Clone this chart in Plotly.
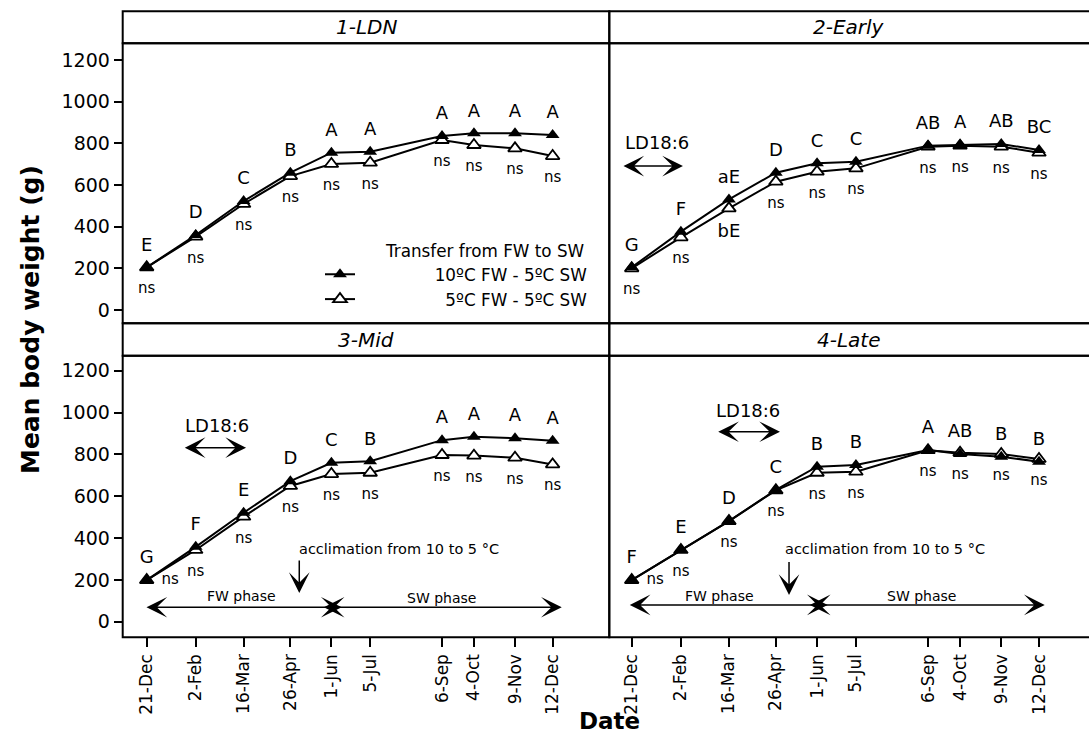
import plotly.graph_objects as go
import pandas as pd

# ---------------- data ----------------
dates = ["2010-12-21", "2011-02-02", "2011-03-16", "2011-04-26", "2011-06-01",
         "2011-07-05", "2011-09-06", "2011-10-04", "2011-11-09", "2011-12-12"]
date_labels = ["21-Dec", "2-Feb", "16-Mar", "26-Apr", "1-Jun",
               "5-Jul", "6-Sep", "4-Oct", "9-Nov", "12-Dec"]
panel_titles = ["1-LDN", "2-Early", "3-Mid", "4-Late"]
series_names = ["10ºC FW - 5ºC SW", "5ºC FW - 5ºC SW"]
legend_title = "Transfer from FW to SW"
y_ticks = [0, 200, 400, 600, 800, 1000, 1200]

ldn_10 = [205, 360, 523, 659, 755, 760, 835, 848, 848, 840]
ldn_5 = [205, 352, 509, 643, 701, 707, 816, 792, 776, 739]
early_10 = [205, 376, 531, 659, 704, 712, 789, 792, 797, 768]
early_5 = [200, 349, 488, 616, 664, 680, 784, 789, 784, 755]
mid_10 = [199, 358, 521, 672, 760, 767, 868, 884, 877, 865]
mid_5 = [199, 343, 502, 649, 706, 712, 797, 794, 784, 752]
late_10 = [199, 343, 481, 630, 741, 749, 821, 802, 789, 765]
late_5 = [199, 343, 481, 628, 712, 717, 820, 808, 802, 778]

ldn_letters = ["E", "D", "C", "B", "A", "A", "A", "A", "A", "A"]
early_letters = ["G", "F", "aE", "D", "C", "C", "AB", "A", "AB", "BC"]
mid_letters = ["G", "F", "E", "D", "C", "B", "A", "A", "A", "A"]
late_letters = ["F", "E", "D", "C", "B", "B", "A", "AB", "B", "B"]
ldn_lower = ["ns"] * 10
early_lower = ["ns", "ns", "bE", "ns", "ns", "ns", "ns", "ns", "ns", "ns"]
mid_lower = ["ns"] * 10
late_lower = ["ns"] * 10

# ---------------- layout helpers ----------------
W, H = 1089, 745
FONT = "DejaVu Sans"
days = list((pd.to_datetime(dates) - pd.Timestamp(dates[0])).days)


def px_x(p):
    return p / W


def px_y(p):
    return 1 - p / H


col_x = [(122.7, 609.3), (609.3, 1089.0)]
row_y = [(43.3, 323.3), (355.7, 637.3)]
strip_y = [(11.3, 43.3), (323.3, 355.7)]
x_ranges = [[-21.05, 405.7], [-19.58, 399.7]]
y_ranges = [[-63.8, 1280.2], [-74.6, 1271.7]]

panels = [
    (ldn_10, ldn_5, ldn_letters, ldn_lower),
    (early_10, early_5, early_letters, early_lower),
    (mid_10, mid_5, mid_letters, mid_lower),
    (late_10, late_5, late_letters, late_lower),
]

fig = go.Figure()
layout_axes = {}
shapes = []
annotations = []

for i, (s10, s5, letters, lower) in enumerate(panels):
    r, c = divmod(i, 2)
    sfx = "" if i == 0 else str(i + 1)
    xa, ya = "x" + sfx, "y" + sfx

    # open triangles (5ºC FW)
    fig.add_trace(go.Scatter(
        x=days, y=s5, mode="lines+markers", name=series_names[1],
        xaxis=xa, yaxis=ya, showlegend=(i == 0), legendrank=2,
        line=dict(color="black", width=2),
        marker=dict(symbol="triangle-up", size=12, color="white",
                    line=dict(color="black", width=1.8)),
        hoverinfo="skip"))
    # filled triangles (10ºC FW)
    fig.add_trace(go.Scatter(
        x=days, y=s10, mode="lines+markers", name=series_names[0],
        xaxis=xa, yaxis=ya, showlegend=(i == 0), legendrank=1,
        line=dict(color="black", width=2),
        marker=dict(symbol="triangle-up", size=12, color="black"),
        hoverinfo="skip"))
    # letters above
    fig.add_trace(go.Scatter(
        x=days, y=s10, mode="markers+text", text=letters,
        textposition="top center", xaxis=xa, yaxis=ya, showlegend=False,
        marker=dict(size=18, color="rgba(0,0,0,0)"),
        textfont=dict(family=FONT, size=18, color="black"), hoverinfo="skip"))
    # ns / letters below
    tpos = ["bottom center"] * len(days)
    if i >= 2:
        tpos[0] = "middle right"
    sizes = [15 if t == "ns" else 18 for t in lower]
    fig.add_trace(go.Scatter(
        x=days, y=s5, mode="markers+text", text=lower,
        textposition=tpos, xaxis=xa, yaxis=ya, showlegend=False,
        marker=dict(size=22, color="rgba(0,0,0,0)"),
        textfont=dict(family=FONT, size=sizes, color="black"), hoverinfo="skip"))

    xdom = [px_x(col_x[c][0]), px_x(col_x[c][1])]
    ydom = [px_y(row_y[r][1]), px_y(row_y[r][0])]
    layout_axes["xaxis" + sfx] = dict(
        domain=xdom, range=x_ranges[c], anchor=ya, showgrid=False, zeroline=False,
        showline=False, tickvals=days, ticktext=date_labels,
        ticks="outside" if r == 1 else "", ticklen=9, tickwidth=2, tickcolor="black",
        showticklabels=(r == 1), tickangle=-90,
        tickfont=dict(family=FONT, size=17, color="black"))
    layout_axes["yaxis" + sfx] = dict(
        domain=ydom, range=y_ranges[r], anchor=xa, showgrid=False, zeroline=False,
        showline=False, tickvals=y_ticks,
        ticks="outside" if c == 0 else "", ticklen=8, tickwidth=2, tickcolor="black",
        showticklabels=(c == 0),
        tickfont=dict(family=FONT, size=19, color="black"))

    # panel frame and strip
    x1 = col_x[c][1] if c == 0 else W + 3
    shapes.append(dict(type="rect", xref="paper", yref="paper",
                       x0=px_x(col_x[c][0]), x1=px_x(x1),
                       y0=px_y(row_y[r][1]), y1=px_y(row_y[r][0]),
                       line=dict(color="black", width=2), layer="above"))
    shapes.append(dict(type="rect", xref="paper", yref="paper",
                       x0=px_x(col_x[c][0]), x1=px_x(x1),
                       y0=px_y(strip_y[r][1]), y1=px_y(strip_y[r][0]),
                       line=dict(color="black", width=2), layer="above"))
    annotations.append(dict(
        text="<i>" + panel_titles[i] + "</i>", xref="paper", yref="paper",
        x=px_x((col_x[c][0] + col_x[c][1]) / 2), y=px_y((strip_y[r][0] + strip_y[r][1]) / 2),
        showarrow=False, font=dict(family=FONT, size=20, color="black"),
        xanchor="center", yanchor="middle"))


def text_ann(xa, ya, x, y, txt, size, xanchor="center"):
    annotations.append(dict(text=txt, xref=xa, yref=ya, x=x, y=y, showarrow=False,
                            xanchor=xanchor, yanchor="middle",
                            font=dict(family=FONT, size=size, color="black")))


def arrow_ann(xa, ya, x_tip, y_tip, x_tail, y_tail, both=True):
    annotations.append(dict(text="", xref=xa, yref=ya, axref=xa, ayref=ya,
                            x=x_tip, y=y_tip, ax=x_tail, ay=y_tail, showarrow=True,
                            arrowhead=3, startarrowhead=3, arrowsize=2.3, startarrowsize=2.3,
                            arrowwidth=1.5, arrowcolor="black",
                            arrowside="end+start" if both else "end",
                            standoff=0, startstandoff=0))


# LD18:6 photoperiod markers
text_ann("x2", "y2", 22.1, 802, "LD18:6", 18)
arrow_ann("x2", "y2", 44.8, 691, -8.5, 691)
text_ann("x3", "y3", 61.4, 936, "LD18:6", 18)
arrow_ann("x3", "y3", 87.1, 832, 32.1, 832)
text_ann("x4", "y4", 101.7, 1009, "LD18:6", 18)
arrow_ann("x4", "y4", 129.6, 908, 74.3, 908)

# acclimation and phases (bottom panels)
text_ann("x3", "y3", 131.6, 346, "acclimation from 10 to 5 °C", 14.5, "left")
arrow_ann("x3", "y3", 133.8, 137, 133.8, 300, both=False)
arrow_ann("x3", "y3", 171, 69, -1.5, 69)
arrow_ann("x3", "y3", 364, 69, 154, 69)
text_ann("x3", "y3", 83.3, 123, "FW phase", 14)
text_ann("x3", "y3", 258.7, 115, "SW phase", 14)

text_ann("x4", "y4", 132.5, 346, "acclimation from 10 to 5 °C", 14.5, "left")
arrow_ann("x4", "y4", 137.5, 128, 137.5, 292, both=False)
arrow_ann("x4", "y4", 171.3, 80, -3, 80)
arrow_ann("x4", "y4", 361, 80, 154.4, 80)
text_ann("x4", "y4", 76.3, 123, "FW phase", 14)
text_ann("x4", "y4", 253.7, 123, "SW phase", 14)

# global axis titles
annotations.append(dict(text="<b>Mean body weight (g)</b>", xref="paper", yref="paper",
                        x=px_x(30), y=px_y(320), textangle=-90, showarrow=False,
                        font=dict(family=FONT, size=25, color="black"),
                        xanchor="center", yanchor="middle"))
annotations.append(dict(text="<b>Date</b>", xref="paper", yref="paper",
                        x=px_x(609), y=px_y(721), showarrow=False,
                        font=dict(family=FONT, size=23, color="black"),
                        xanchor="center", yanchor="middle"))

# legend names padded with no-break spaces to mimic the right-aligned legend
nb = "\u00a0"
fig.for_each_trace(lambda t: t.update(name=nb * 14 + t.name) if t.name == series_names[0] else
                   (t.update(name=nb * 16 + t.name) if t.name == series_names[1] else None))

fig.update_layout(
    width=W, height=H, margin=dict(l=0, r=0, t=0, b=0),
    paper_bgcolor="white", plot_bgcolor="white",
    font=dict(family=FONT, color="black"),
    shapes=shapes, annotations=annotations,
    legend=dict(x=px_x(320), y=px_y(235), xanchor="left", yanchor="top",
                bgcolor="rgba(0,0,0,0)", borderwidth=0, tracegroupgap=0,
                title=dict(text=nb * 12 + legend_title, font=dict(family=FONT, size=16.8)),
                font=dict(family=FONT, size=16.8, color="black")),
    **layout_axes,
)

fig.write_html("out.html")
